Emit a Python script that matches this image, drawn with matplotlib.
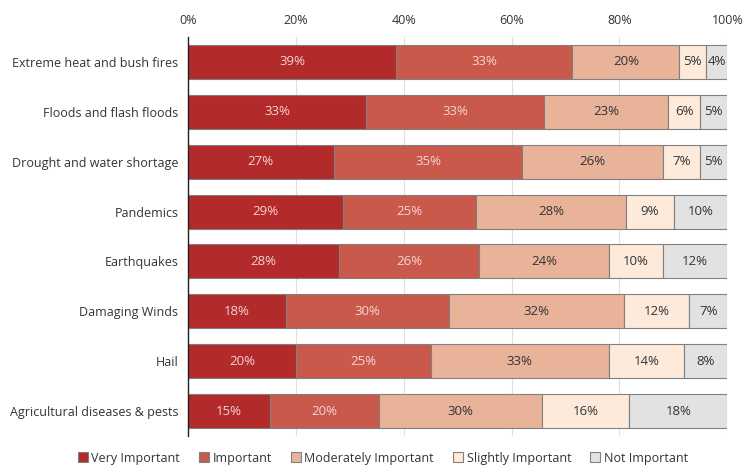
import numpy as np
import matplotlib.pyplot as plt

plt.rcParams['font.family'] = ['Open Sans', 'DejaVu Sans']

categories = ["Extreme heat and bush fires", "Floods and flash floods",
              "Drought and water shortage", "Pandemics", "Earthquakes",
              "Damaging Winds", "Hail", "Agricultural diseases & pests"]
levels = ["Very Important", "Important", "Moderately Important",
          "Slightly Important", "Not Important"]
very = [39, 33, 27, 29, 28, 18, 20, 15]
important = [33, 33, 35, 25, 26, 30, 25, 20]
moderate = [20, 23, 26, 28, 24, 32, 33, 30]
slight = [5, 6, 7, 9, 10, 12, 14, 16]
not_imp = [4, 5, 5, 10, 12, 7, 8, 18]

colors = ["#B22A2A", "#C9594B", "#E8B399", "#FDEADA", "#E2E2E2"]
text_colors = ["#F5D5D5", "#F5D5D5", "#333333", "#333333", "#333333"]

data = np.array([very, important, moderate, slight, not_imp], dtype=float)
widths = data / data.sum(axis=0) * 100

fig = plt.figure(figsize=(7.46, 4.66), dpi=100)
ax = fig.add_axes([0.252, 0.064, 0.723, 0.857])

y = np.arange(len(categories))
left = np.zeros(len(categories))
for i, lev in enumerate(levels):
    ax.barh(y, widths[i], left=left, height=0.68, color=colors[i],
            edgecolor="#808080", linewidth=0.8, label=lev, zorder=2)
    for j in range(len(categories)):
        ax.text(left[j] + widths[i][j] / 2, y[j], f"{int(data[i][j])}%",
                ha="center", va="center", fontsize=9.5, color=text_colors[i], zorder=3)
    left += widths[i]

ax.set_xlim(0, 100)
ax.set_ylim(len(categories) - 0.5, -0.5)
ax.set_yticks(y)
ax.set_yticklabels(categories, fontsize=9, color="#333333")
ax.set_xticks([0, 20, 40, 60, 80, 100])
ax.set_xticklabels(["0%", "20%", "40%", "60%", "80%", "100%"], fontsize=9, color="#333333")
ax.xaxis.tick_top()
ax.tick_params(axis="both", length=0, pad=7)
ax.grid(axis="x", color="#E0E0E0", linewidth=0.8, zorder=0)
for s in ["top", "right", "bottom"]:
    ax.spines[s].set_visible(False)
ax.spines["left"].set_color("#222222")
ax.spines["left"].set_linewidth(1.0)

fig.legend(*ax.get_legend_handles_labels(), loc="center",
           bbox_to_anchor=(0.513, 0.017), ncol=5, frameon=False,
           fontsize=9, handlelength=0.8, handleheight=0.8, handletextpad=0.3,
           columnspacing=1.5, labelcolor="#333333")

fig.savefig("out.png", dpi=100)
